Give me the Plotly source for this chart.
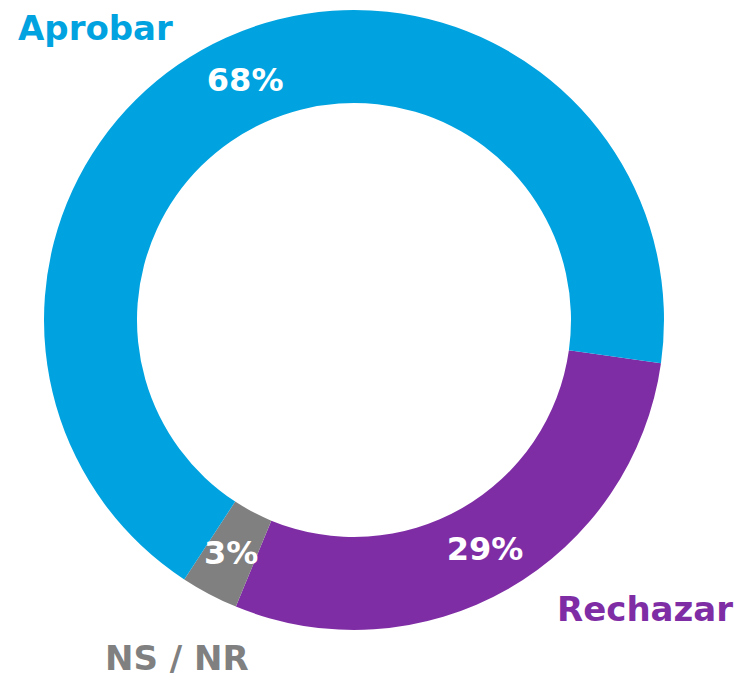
import math
import plotly.graph_objects as go

labels = ["Rechazar", "NS / NR", "Aprobar"]
values = [29, 3, 68]
colors = ["#7F2DA5", "#808080", "#00A3E0"]

W, H = 735, 672          # page adds an 8px body margin
ROT = 98                 # start angle of first slice (deg, clockwise from 12 o'clock)
HOLE = 0.70

# pie geometry (pixels in figure coordinates)
cx, cy, R = 346, 312, 310
dom_x = [(cx - R) / W, (cx + R) / W]
dom_y = [1 - (cy + R) / H, 1 - (cy - R) / H]

total = sum(values)
pct_text = [f"{round(v / total * 100)}%" for v in values]

# the small slice gets its label as an annotation placed at mid-ring of its angle
small = 1
start = sum(values[:small]) / total * 360
mid_ang = math.radians(ROT + start + values[small] / total * 180)
r_mid = R * (1 + HOLE) / 2
sx = cx + r_mid * math.sin(mid_ang)
sy = cy - r_mid * math.cos(mid_ang)

tt = ["%{percent:.0%}" if i != small else "" for i in range(len(values))]

fig = go.Figure(go.Pie(
    labels=labels,
    values=values,
    hole=HOLE,
    sort=False,
    direction="clockwise",
    rotation=ROT,
    marker=dict(colors=colors, line=dict(width=0)),
    texttemplate=tt,
    textposition="inside",
    insidetextorientation="horizontal",
    textfont=dict(family="DejaVu Sans", size=32, color="white", weight="bold"),
    domain=dict(x=dom_x, y=dom_y),
    hoverinfo="label+percent",
))

label_font = dict(family="DejaVu Sans", size=34, weight="bold")
ann_common = dict(xref="paper", yref="paper", showarrow=False,
                  xanchor="center", yanchor="middle")
fig.update_layout(
    width=W, height=H,
    margin=dict(l=0, r=0, t=0, b=0),
    paper_bgcolor="white",
    showlegend=False,
    uniformtext=dict(minsize=32, mode="show"),
    annotations=[
        dict(text="Aprobar", x=87 / W, y=1 - 20 / H,
             font=dict(color=colors[2], **label_font), **ann_common),
        dict(text="Rechazar", x=637 / W, y=1 - 601 / H,
             font=dict(color=colors[0], **label_font), **ann_common),
        dict(text="NS / NR", x=169 / W, y=1 - 650 / H,
             font=dict(color=colors[1], **label_font), **ann_common),
        dict(text=pct_text[small], x=sx / W, y=1 - sy / H,
             font=dict(family="DejaVu Sans", size=32, color="white", weight="bold"),
             **ann_common),
    ],
)

fig.write_html("out.html")
